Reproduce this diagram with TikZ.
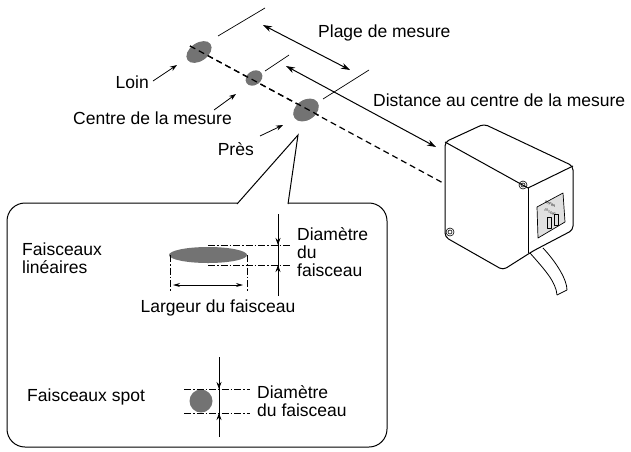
\documentclass[tikz,border=0pt]{standalone}
\usepackage{fontspec}
\setmainfont{Liberation Sans}
\usetikzlibrary{arrows.meta}
\begin{document}
\begin{tikzpicture}[x=1pt,y=-1pt,
  lab/.style={font=\fontsize{17.5}{18}\selectfont,inner sep=0pt},
  dd/.style={line width=0.5pt,dash pattern=on 7pt off 2pt on 1.5pt off 2pt},
  arr/.style={line width=0.8pt,-{Stealth[length=7pt,width=5pt]}},
  darr/.style={line width=1pt,{Stealth[length=9pt,width=6pt]}-{Stealth[length=9pt,width=6pt]}},
  spotf/.style={fill=black!55,draw=none}]
\useasboundingbox (0,0) rectangle (631,451);
% beam
\draw[line width=1.2pt,dash pattern=on 6pt off 4pt] (190,46) -- (445,184);
\fill[spotf,rotate around={35:(199,52)}] (199,52) ellipse (14 and 9);
\fill[spotf,rotate around={35:(254,78)}] (254,78) ellipse (9 and 7);
\fill[spotf,rotate around={35:(306,110)}] (306,110) ellipse (14 and 10);
\draw[line width=1.2pt,dash pattern=on 6pt off 4pt] (190,46) -- (320,116);
% range lines
\draw[line width=0.7pt] (218,36) -- (265,8);
\draw[line width=0.7pt] (265,71) -- (289,55);
\draw[line width=0.7pt] (323,99) -- (369,70);
\coordinate (p1) at (263,25); \coordinate (p2) at (350,70);
\draw[darr] (p1) -- (p2);
\coordinate (d1) at (286,66); \coordinate (d2) at (436,147);
\draw[darr] (d1) -- (d2);
\node[lab,anchor=west] (plage) at (318,33) {Plage de mesure};
\node[lab,anchor=west] (dist) at (373,100) {Distance au centre de la mesure};
% labels
\node[lab,anchor=east] (loin) at (149,82) {Loin};
\coordinate (la) at (177,65);
\draw[arr] (153,81) -- (la);
\node[lab,anchor=east] (centre) at (232,118) {Centre de la mesure};
\coordinate (ca) at (236,94);
\draw[arr] (214,110) -- (ca);
\node[lab,anchor=east] (pres) at (254,149) {Près};
\coordinate (pa) at (283,125);
\draw[arr] (260,136) -- (pa);
% sensor
\begin{scope}[line width=1pt,line join=round]
\draw[rounded corners=4pt,fill=white] (445,142) -- (484,124) -- (573,166) -- (573,230) -- (533,251) -- (503,270) -- (445,237) -- cycle;
\draw (445,142) -- (528,188) -- (573,166);
\draw (528,188) -- (528,253);
\draw[line width=0.6pt] (523,185) circle (4) (523,185) circle (2);
\draw[line width=0.6pt] (450,232) circle (4) (450,232) circle (2);
\draw[line width=0.7pt,fill=black!12] (537,207) -- (563,193) -- (565,222) -- (538,238) -- cycle;
\node[font=\fontsize{4}{4}\selectfont,rotate=-28,inner sep=0pt] (om) at (550,204) {omron};
\node[font=\fontsize{3}{3}\selectfont,rotate=-28,inner sep=0pt] (mod) at (550,212) {ZS-LD80};
\draw[line width=0.5pt] (547,217) rectangle (551,228) (554,214) rectangle (558,225);
\draw[line width=0.8pt] (530,253) .. controls (545,270) and (556,282) .. (557,295);
\draw[line width=0.8pt] (543,248) .. controls (557,263) and (567,280) .. (567,290);
\draw[line width=0.8pt] (557,295) -- (567,290);
\end{scope}
% callout
\coordinate (apex) at (298,135);
\draw[line width=1pt,rounded corners=18pt] (237,203) -- (7,203) -- (7,447) -- (387,447) -- (387,203) -- (288,203);
\draw[line width=1pt] (237,204) -- (apex) -- (288,204);
% linear beam
\node[lab,anchor=north west,align=left] (fl) at (22,243) {Faisceaux\\linéaires};
\fill[spotf] (208,255) ellipse (39 and 8);
\draw[dd] (170,255) -- (170,292);
\draw[dd] (247,255) -- (247,292);
\draw[line width=0.8pt,{Stealth[length=7pt,width=4pt]}-{Stealth[length=7pt,width=4pt]}] (173,285) -- (243,285);
\node[lab] (larg) at (218,308) {Largeur du faisceau};
\draw[dd] (208,245) -- (290,245);
\draw[dd] (208,265) -- (290,265);
\draw[line width=0.6pt] (278,214) -- (278,296);
\draw[arr] (278,214) -- (278,245);
\draw[arr] (278,296) -- (278,265);
\node[lab,anchor=north west,align=left] (dia1) at (297,227) {Diamètre\\du\\faisceau};
% spot
\node[lab,anchor=west] (fs) at (27,397) {Faisceaux spot};
\fill[spotf] (201,401) circle (11.5);
\draw[dd] (184,389) -- (250,389);
\draw[dd] (184,413) -- (250,413);
\draw[line width=0.6pt] (219,357) -- (219,437);
\draw[arr] (219,357) -- (219,389);
\draw[arr] (219,437) -- (219,413);
\node[lab,anchor=west,align=left] (dia2) at (257,401) {Diamètre\\du faisceau};
\end{tikzpicture}
\end{document}
